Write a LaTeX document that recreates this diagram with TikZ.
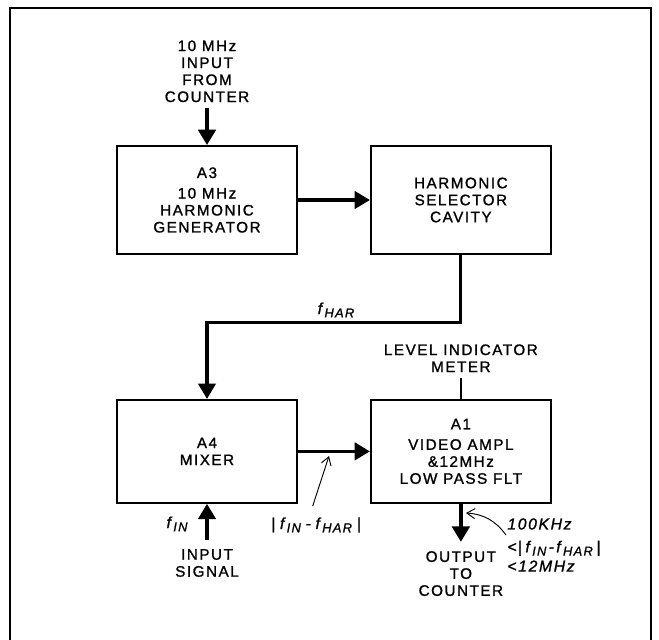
\documentclass[tikz,border=0pt]{standalone}
\usepackage{fontspec}
\setmainfont[LetterSpace=10, FakeBold=1.2]{Liberation Sans}
\usetikzlibrary{arrows.meta, positioning}

\newcommand{\freq}[1]{\textit{f\hspace{2pt}\raisebox{-0.4ex}{\fontsize{11}{11}\selectfont #1}}}

\begin{document}
\begin{tikzpicture}[
        x=0.3mm, y=-0.3mm,
        node distance=4.32cm and 2.16cm,
        every node/.style={font=\fontsize{13}{14.5}\selectfont},
        block/.style={rectangle, draw, line width=1.6pt, minimum width=5.4cm, minimum height=3.24cm, align=center, inner sep=0pt},
        sigtext/.style={align=center, inner sep=1pt},
        sigital/.style={font=\fontsize{13.5}{14.5}\selectfont\itshape, inner sep=1pt},
        flow/.style={-{Triangle[length=4.6mm, width=5.2mm]}, line width=3pt},
        pointer/.style={-{Straight Barb[length=2.4mm, width=3mm]}, line width=0.8pt},
        boxframe/.style={line width=2pt}
    ]
        \useasboundingbox (0,0) rectangle (659,640);
        \draw[boxframe] (10,640) -- (10,8) -- (651,8) -- (651,640);

        % Blocks
        \node[block] (a3) at (207,200) {A3\\[3pt]10 MHz\\HARMONIC\\GENERATOR};
        \node[block, right=of a3] (cavity) {HARMONIC\\SELECTOR\\CAVITY};
        \node[block, minimum height=3.09cm, below=of a3] (a4) {A4\\MIXER};
        \node[block, minimum height=3.09cm, right=of a4] (a1) {A1\\[3pt]VIDEO AMPL\\\&12MHz\\LOW PASS FLT};

        % Signals in and out
        \node[sigtext, above=1.245cm of a3] (clkin) {10 MHz\\INPUT\\FROM\\COUNTER};
        \node[sigtext, above=0.765cm of a1] (meter) {LEVEL INDICATOR\\METER};
        \node[sigtext, below=1.32cm of a4] (insig) {INPUT\\SIGNAL};
        \node[sigtext, below=1.38cm of a1] (outc) {OUTPUT\\TO\\COUNTER};

        \draw[flow, shorten <=1.3mm] (clkin) -- (a3);
        \draw[flow] (a3) -- (cavity);
        \draw[flow, line width=2.6pt] (cavity.south) -- ++(0,68) -| (a4.north);
        \draw[flow] (a4) -- (a1);
        \draw[line width=2.2pt, shorten <=1.3mm] (meter) -- (a1);
        \draw[flow, shorten <=2.4mm] (insig) -- (a4);
        \draw[flow, shorten >=2.4mm] (a1) -- (outc);

        % Frequency labels
        \node[sigital] (fhar) at (336,310) {\freq{HAR}};
        \node[sigital] (fin) at (177,524) {\freq{IN}};
        \node[sigital] (diff) at (316,525) {|\hspace{4pt}\freq{IN}\hspace{4pt}-\hspace{4pt}\freq{HAR}\hspace{4pt}|};
        \node[sigital, align=left, anchor=north west] (band) at (506,517) {100KHz\\[5pt]<\hspace{1pt}|\hspace{3pt}\freq{IN}\hspace{2pt}-\hspace{2pt}\freq{HAR}\hspace{3pt}|\\[2pt]<12MHz};

        \coordinate (tipdiff) at (329,456);
        \coordinate (tipout) at (466,513);
        \draw[pointer] ([xshift=-1mm, yshift=3mm]diff.north) -- (tipdiff);
        \draw[pointer] ([yshift=3mm]band.west) to[bend right=25] (tipout);

    \end{tikzpicture}
\end{document}
